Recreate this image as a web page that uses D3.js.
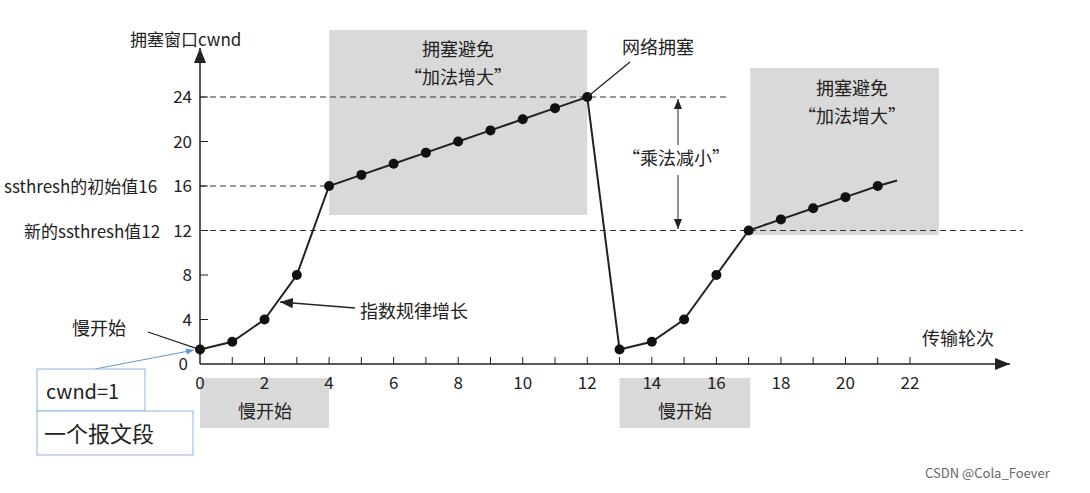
<!DOCTYPE html>
<html><head><meta charset="utf-8">
<script src="https://cdn.jsdelivr.net/npm/d3@7"></script>
<style>body{margin:0;background:#fff}text{font-family:"Noto Sans CJK SC","Liberation Serif",serif;fill:#222}</style>
</head><body><svg id="c" width="1090" height="493"></svg>
<script>
"use strict";
const rounds1 = [0,1,2,3,4,5,6,7,8,9,10,11,12];
const cwnd1 = [1.3,2,4,8,16,17,18,19,20,21,22,23,24];
const rounds2 = [13,14,15,16,17,18,19,20,21];
const cwnd2 = [1.3,2,4,8,12,13,14,15,16];
const tailEnd = [21.6,16.5];
const xTicks = [0,2,4,6,8,10,12,14,16,18,20,22];
const yTicks = [4,8,12,16,20,24];

const svg = d3.select("#c");
const x = d3.scaleLinear().domain([0,22]).range([200,910]);
const y = d3.scaleLinear().domain([0,24]).range([364,97]);
const gray = "#d9d9d9";

// shaded regions
[[4,12,30,215],[17.05,22.9,68,235]].forEach(r=>svg.append("rect")
  .attr("x",x(r[0])).attr("width",x(r[1])-x(r[0])).attr("y",r[2]).attr("height",r[3]-r[2]).attr("fill",gray));
[[0,4],[13.0,17.05]].forEach(r=>svg.append("rect")
  .attr("x",x(r[0])).attr("width",x(r[1])-x(r[0])).attr("y",378).attr("height",50).attr("fill",gray));

// dashed lines
[[24,0,16.4],[16,0,4],[12,0,25.5]].forEach(d=>svg.append("line")
  .attr("x1",x(d[1])).attr("x2",x(d[2])).attr("y1",y(d[0])).attr("y2",y(d[0]))
  .attr("stroke","#333").attr("stroke-dasharray","6,4").attr("stroke-width",1));

svg.append("defs").html('<marker id="ar" viewBox="0 0 10 10" refX="10" refY="5" markerWidth="10" markerHeight="10" orient="auto-start-reverse"><path d="M0,1L10,5L0,9z" fill="#222"/></marker><marker id="ab" viewBox="0 0 10 10" refX="10" refY="5" markerWidth="8" markerHeight="8" orient="auto"><path d="M0,1L10,5L0,9z" fill="#5b9bd5"/></marker>');

// axes
svg.append("line").attr("x1",200).attr("x2",200).attr("y1",364).attr("y2",48).attr("stroke","#222").attr("stroke-width",1.5).attr("marker-end","url(#ar)");
svg.append("line").attr("x1",200).attr("x2",1010).attr("y1",364).attr("y2",364).attr("stroke","#222").attr("stroke-width",1.5).attr("marker-end","url(#ar)");
d3.range(1,23).forEach(t=>svg.append("line").attr("x1",x(t)).attr("x2",x(t)).attr("y1",364).attr("y2",357).attr("stroke","#222"));
yTicks.forEach(t=>svg.append("line").attr("x1",200).attr("x2",208).attr("y1",y(t)).attr("y2",y(t)).attr("stroke","#222"));
xTicks.forEach(t=>svg.append("text").attr("x",x(t)).attr("y",389).attr("text-anchor","middle").attr("font-size",17).attr("font-family","Liberation Serif").text(t));
yTicks.forEach(t=>svg.append("text").attr("x",192).attr("y",y(t)+6).attr("text-anchor","end").attr("font-size",17).attr("font-family","Liberation Serif").text(t));
svg.append("text").attr("x",188).attr("y",370).attr("text-anchor","end").attr("font-size",17).attr("font-family","Liberation Serif").text(0);

// data lines
const line = d3.line().x(d=>x(d[0])).y(d=>y(d[1]));
const p1 = rounds1.map((r,i)=>[r,cwnd1[i]]);
const p2 = rounds2.map((r,i)=>[r,cwnd2[i]]);
svg.append("path").attr("d",line(p1.concat(p2,[tailEnd]))).attr("fill","none").attr("stroke","#222").attr("stroke-width",2);
p1.concat(p2).forEach(p=>svg.append("circle").attr("cx",x(p[0])).attr("cy",y(p[1])).attr("r",5).attr("fill","#111"));

// labels
const lab=(t,xx,yy,s,a)=>svg.append("text").attr("x",xx).attr("y",yy).attr("font-size",s||17).attr("text-anchor",a||"start").text(t);
lab("拥塞窗口cwnd",130,46);
lab("ssthresh的初始值16",4,193);
lab("新的ssthresh值12",24,238);
lab("拥塞避免",458,56,18,"middle");
lab("“加法增大”",458,84,18,"middle");
lab("拥塞避免",852,95,18,"middle");
lab("“加法增大”",852,123,18,"middle");
lab("网络拥塞",622,54,18);
lab("“乘法减小”",676,165,18,"middle");
lab("指数规律增长",360,318,18);
lab("慢开始",72,335,18);
lab("慢开始",265,418,18,"middle");
lab("慢开始",685,418,18,"middle");
lab("传输轮次",922,345,18);
lab("CSDN @Cola_Foever",925,478,13).attr("font-family","Liberation Sans").style("fill","#666");

// pointer lines
const arr=(x1,y1,x2,y2,m)=>svg.append("line").attr("x1",x1).attr("y1",y1).attr("x2",x2).attr("y2",y2).attr("stroke","#222").attr("stroke-width",1.3).attr("marker-end",m?"url(#ar)":null);
arr(630,62,x(12),y(24));
arr(355,308,280,302,true);
arr(148,332,x(0),y(1.3));
svg.append("line").attr("x1",678).attr("x2",678).attr("y1",145).attr("y2",99).attr("stroke","#222").attr("marker-end","url(#ar)");
svg.append("line").attr("x1",678).attr("x2",678).attr("y1",175).attr("y2",229).attr("stroke","#222").attr("marker-end","url(#ar)");

// callout boxes
svg.append("line").attr("x1",95).attr("y1",369).attr("x2",194).attr("y2",350).attr("stroke","#5b9bd5").attr("marker-end","url(#ab)");
svg.append("rect").attr("x",37).attr("y",369).attr("width",108).attr("height",42).attr("fill","#fff").attr("stroke","#8eb4e3");
svg.append("rect").attr("x",37).attr("y",411).attr("width",156).attr("height",44).attr("fill","#fff").attr("stroke","#8eb4e3");
lab("cwnd=1",46,399,20).attr("font-family","Liberation Sans");
lab("一个报文段",44,442,22);
</script></body></html>
